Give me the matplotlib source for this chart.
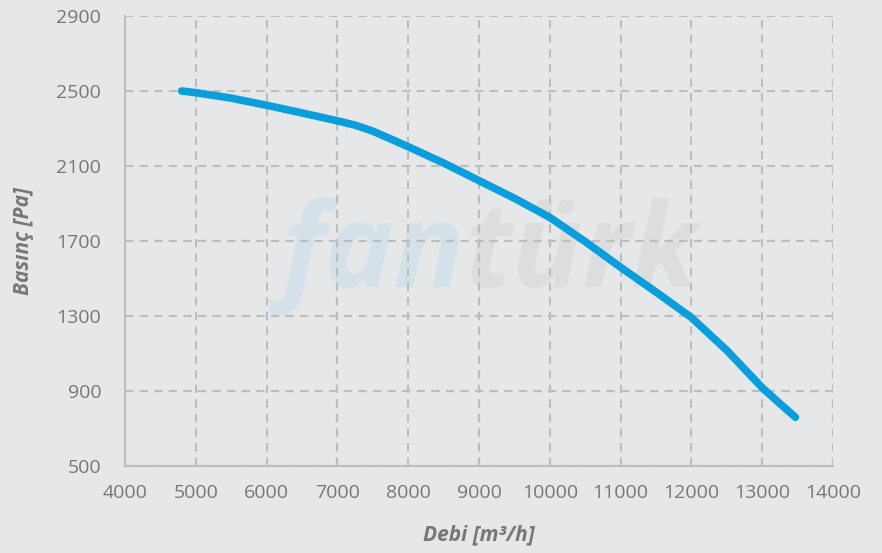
import matplotlib
matplotlib.use("Agg")
import matplotlib.pyplot as plt

# pressure curve data
debi = [4800, 5000, 5500, 6000, 6500, 7000, 7250, 7500, 8000, 8500, 9000, 9500,
        10000, 10500, 11000, 11500, 12000, 12500, 13000, 13250, 13470]
basinc = [2500, 2491, 2462, 2424, 2383, 2341, 2318, 2286, 2203, 2116, 2022, 1928,
          1826, 1697, 1560, 1428, 1292, 1117, 918, 833, 760]

x_ticks = list(range(4000, 14001, 1000))
y_ticks = [500, 900, 1300, 1700, 2100, 2500, 2900]

bg = '#e6e7e9'
txt = '#777777'
plt.rcParams['font.family'] = ['Open Sans', 'DejaVu Sans']

fig = plt.figure(figsize=(8.82, 5.53), dpi=100, facecolor=bg)
ax = fig.add_axes([0.1417, 0.1573, 0.8027, 0.8138])
ax.set_facecolor(bg)

# watermark
ax.text(0.48, 0.398, 'fan', transform=ax.transAxes, ha='right', va='baseline',
        fontsize=84, fontweight='bold', fontstyle='italic', color='#d5e1e8', zorder=0)
ax.text(0.48, 0.398, 'türk', transform=ax.transAxes, ha='left', va='baseline',
        fontsize=84, fontweight='bold', fontstyle='italic', color='#dcdddf', zorder=0)

ax.plot(debi, basinc, color='#0a9fdc', linewidth=5.5, solid_capstyle='round',
        solid_joinstyle='round', zorder=3)

ax.set_xlim(4000, 14000)
ax.set_ylim(500, 2900)
ax.set_xticks(x_ticks)
ax.set_yticks(y_ticks)
ax.grid(True, color='#bdbdbd', linestyle=(0, (4, 3)), linewidth=1.5, zorder=1)
ax.set_axisbelow(True)

for s in ['top', 'right']:
    ax.spines[s].set_visible(False)
for s in ['left', 'bottom']:
    ax.spines[s].set_color('#bdbdbd')
    ax.spines[s].set_linewidth(1.5)

ax.tick_params(axis='both', length=0, labelsize=14, labelcolor=txt)
ax.tick_params(axis='x', pad=13)
ax.tick_params(axis='y', pad=17)
ax.set_xlabel('Debi [m³/h]', fontsize=15, fontweight='bold', fontstyle='italic',
              color=txt, labelpad=16)
ax.set_ylabel('Basınç [Pa]', fontsize=15, fontweight='bold', fontstyle='italic',
              color=txt, labelpad=16)

plt.savefig('out.png', dpi=100, facecolor=bg)
